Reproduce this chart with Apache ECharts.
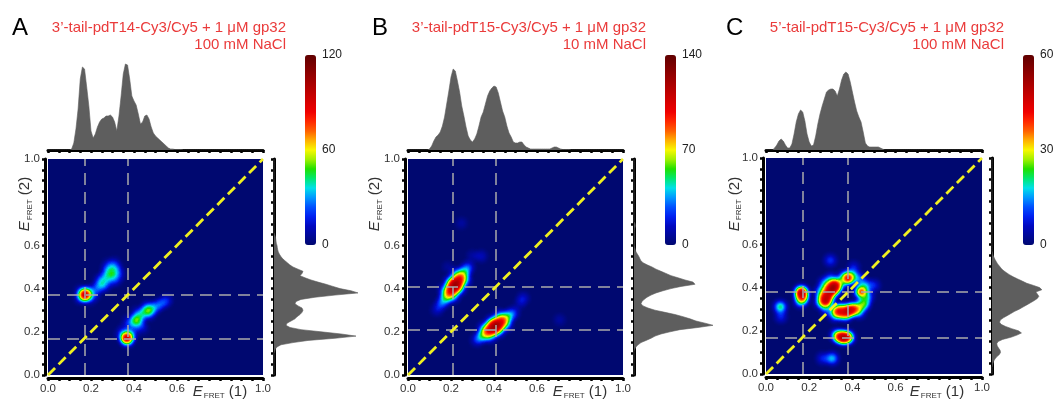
<!DOCTYPE html>
<html><head><meta charset="utf-8">
<script src="https://cdn.jsdelivr.net/npm/echarts@6.0.0/dist/echarts.min.js"></script>
<style>html,body{margin:0;padding:0;background:#fff;}#chart{width:1060px;height:404px;}</style>
</head><body><div id="chart"></div>
<script>
// ---------------- DATA ----------------
const tickLabels = ['0.0', '0.2', '0.4', '0.6', '1.0'];
const titleA = '3\u2019-tail-pdT14-Cy3/Cy5 + 1 \u03bcM gp32\n100 mM NaCl';
const titleB = '3\u2019-tail-pdT15-Cy3/Cy5 + 1 \u03bcM gp32\n10 mM NaCl';
const titleC = '5\u2019-tail-pdT15-Cy3/Cy5 + 1 \u03bcM gp32\n100 mM NaCl';
const cbMaxA = 120, cbMaxB = 140, cbMaxC = 60;

// dashed reference lines (E_FRET values)
const dashXA = [0.17, 0.37], dashYA = [0.17, 0.37];
const dashXB = [0.215, 0.41], dashYB = [0.215, 0.41];
const dashXC = [0.17, 0.375], dashYC = [0.17, 0.375];

// top histograms: counts per 0.01 bin, starting at bin index
const topAStart = 11;
const topA = [1,7,21,41,71,83,81,63,44,19,12,16,23,28,31,32,34,34,35,33,28,19,34,54,76,86,85,71,54,49,45,36,26,28,34,35,31,23,17,14,12,10,8,6,4,2,1,1,0.5,0.5,0.5,0.5];
const topBStart = 10;
const topB = [1,4,9,13,15,18,24,33,46,59,73,81,79,69,58,44,34,23,14,10,8,11,16,24,33,38,46,54,59,62,64,63,57,48,39,33,24,17,13,8,7,7,8,8,5,3,2,1,1,1,1,1,1,1,1,1,1,2,3,3,2,1,0.5,0.5,0.5,0.5];
const topCStart = 3;
const topC = [0,2,5,9,11,9,5,2,2,6,16,28,36,40,38,29,16,8,4,5,14,26,36,44,51,58,60,61,61,59,54,61,70,76,78,76,68,58,48,39,33,28,18,7,4,3,3,3,3,3,2,1];

// right histograms: counts per 0.01 bin (E_FRET(2)), starting at bin index
const rightAStart = 11;
const rightA = [0.7,1.3,3,7,19,34,61,82,67,47,27,16,12,13,17,21,23,26,28,29,28,24,21,22,27,41,61,84,77,66,59,52,44,37,31,26,28,29,24,19,15.7,13.3,10.7,8.3,6.7,5.3,4.3,3.7,3.3,3,2.3,2,1.7,1.3,0.7];
const rightBStart = 12;
const rightB = [0.7,2,4,7,12,17,21,27,36,46,64,79,71,62,56,49,41,31,21,14,9,7,8,10,13,17,22,29,37,47,61,59,51,44,37,32,27,22,18,13,9,6.7,5.7,4.7,3.3,2,1.3,0.7,0.3,0.3,0.3,0.3,0.3,0.3,0.3,0.3,0.7,1.3,1];
const rightCStart = 4;
const rightC = [0.7,1.3,2.3,4,6.3,9.7,11.3,10.7,8.7,7,6.3,8,14,25,33,39,35,26,18,12,10,11,15,20,25,30,36,41,46,51,56,60,62,60,58,66,63,55,46,40,34,28,23,18.7,14.7,12,9.7,7.3,5.7,4,2.7,1.3,0.7];

// 2D density points [E_FRET(1), E_FRET(2), counts]
const heatA = [
  [0.171,0.371,120],[0.174,0.374,40],[0.366,0.171,120],[0.369,0.174,40],
  [0.295,0.468,46],[0.411,0.255,60],[0.466,0.300,48],[0.262,0.413,22],
  [0.150,0.355,18],[0.150,0.390,14],[0.195,0.350,16],[0.195,0.390,18],[0.215,0.370,18],[0.225,0.400,21],[0.245,0.415,22],
  [0.255,0.440,22],[0.270,0.460,22],[0.275,0.490,21],[0.300,0.500,21],[0.320,0.490,21],[0.330,0.465,19],[0.315,0.440,19],
  [0.290,0.435,18],[0.240,0.440,14],[0.310,0.520,13],[0.280,0.515,11],
  [0.340,0.190,18],[0.370,0.150,14],[0.395,0.195,21],[0.390,0.230,21],[0.375,0.250,16],[0.425,0.235,21],[0.430,0.275,22],
  [0.445,0.290,21],[0.470,0.280,21],[0.490,0.305,22],[0.505,0.320,21],[0.525,0.330,19],[0.545,0.338,16],[0.555,0.350,11],
  [0.460,0.320,16],[0.415,0.290,16],[0.440,0.215,13],[0.355,0.215,13]
];
const heatB = [
  [0.218,0.415,130],[0.206,0.399,115],[0.230,0.431,115],[0.191,0.379,85],[0.245,0.451,85],
  [0.174,0.354,55],[0.262,0.476,55],[0.156,0.330,32],[0.280,0.500,30],[0.135,0.302,20],
  [0.238,0.400,60],[0.198,0.430,60],[0.265,0.436,45],[0.225,0.466,45],[0.211,0.364,45],[0.171,0.394,38],
  [0.405,0.225,130],[0.389,0.213,120],[0.421,0.237,115],[0.369,0.198,85],[0.441,0.252,85],
  [0.345,0.180,55],[0.465,0.270,55],[0.321,0.162,28],[0.489,0.288,30],
  [0.420,0.205,60],[0.390,0.245,60],[0.456,0.232,45],[0.426,0.272,45],[0.384,0.178,42],[0.354,0.218,42],
  [0.535,0.355,22],[0.340,0.550,18],[0.300,0.552,12],[0.248,0.703,12],[0.705,0.255,12],[0.185,0.500,10],[0.520,0.330,12]
];
const heatC = [
  [0.163,0.378,60],[0.166,0.372,30],[0.168,0.350,35],[0.160,0.335,20],
  [0.277,0.337,55],[0.287,0.357,38],[0.297,0.376,40],[0.307,0.396,60],[0.318,0.412,50],[0.265,0.365,22],[0.280,0.395,22],[0.330,0.395,18],
  [0.380,0.442,55],[0.440,0.380,52],
  [0.330,0.290,45],[0.355,0.283,35],[0.380,0.292,55],[0.400,0.300,45],[0.420,0.305,25],[0.345,0.305,20],
  [0.340,0.172,45],[0.360,0.168,60],[0.380,0.170,45],[0.325,0.180,20],
  [0.066,0.311,30],[0.069,0.265,12],[0.306,0.072,24],[0.262,0.072,12],
  [0.298,0.526,14],[0.406,0.495,10],[0.500,0.410,12],[0.455,0.330,18],[0.250,0.330,14],
  [0.340,0.420,20],[0.360,0.450,18],[0.400,0.460,18],[0.430,0.440,18],[0.460,0.410,20],[0.470,0.360,20],[0.450,0.320,22],
  [0.430,0.285,20],[0.370,0.270,20],[0.320,0.270,18],[0.280,0.300,18],[0.260,0.340,18],[0.250,0.380,16],[0.270,0.420,18],[0.300,0.440,18]
];

// ---------------- HELPERS ----------------
const bins = Array.from({length: 101}, (_, i) => (i / 100).toFixed(2));
function fill(start, vals) {
  const a = new Array(101).fill(0);
  vals.forEach((v, k) => { a[start + k] = v; });
  return a;
}
const FONT = "'Liberation Sans', Arial, Helvetica, sans-serif";
const NAVY = '#000870';
const JET = ['#000870','#000898','#0008c0','#0020f0','#0050ff','#0098ff','#00e0e8','#00e870','#20e000','#a0f000','#f8f800','#ffb000','#ff6000','#ff2800','#f00000','#d80000','#c00000','#a80000','#900000','#780000','#600000'];

echarts.registerMap('square', {
  type: 'FeatureCollection',
  features: [{type: 'Feature', properties: {name: 'sq'},
    geometry: {type: 'Polygon', coordinates: [[[0,0],[1,0],[1,1],[0,1],[0,0]]]}}]
});

const fmt = v => {
  const r = Math.round(v * 100);
  if (r % 10) return '';
  const s = (r / 100).toFixed(1);
  return tickLabels.includes(s) ? s : '';
};
const every5 = (i) => i % 5 === 0;

const panels = [
  {L: 48, T: 159, W: 215, H: 216, rightL: 274, cbL: 305, titleR: 286, letterX: 12, letter: 'A', yNameX: 25.5, xNameX: 220,
   heat: heatA, cbMax: cbMaxA, dashX: dashXA, dashY: dashYA, top: fill(topAStart, topA), right: fill(rightAStart, rightA), title: titleA},
  {L: 408, T: 159, W: 215, H: 216, rightL: 634, cbL: 665, titleR: 646, letterX: 372, letter: 'B', yNameX: 375.5, xNameX: 580,
   heat: heatB, cbMax: cbMaxB, dashX: dashXB, dashY: dashYB, top: fill(topBStart, topB), right: fill(rightBStart, rightB), title: titleB},
  {L: 766, T: 158, W: 216, H: 216, rightL: 992, cbL: 1023, titleR: 1004, letterX: 726, letter: 'C', yNameX: 735, xNameX: 937,
   heat: heatC, cbMax: cbMaxC, dashX: dashXC, dashY: dashYC, top: fill(topCStart, topC), right: fill(rightCStart, rightC), title: titleC}
];

const option = {
  animation: false,
  textStyle: {fontFamily: FONT},
  grid: [], xAxis: [], yAxis: [], geo: [], series: [], visualMap: [],
  graphic: {elements: []}
};

const mainAxis = (g) => ({
  gridIndex: g, type: 'value', min: 0, max: 1, interval: 0.05, offset: 3,
  axisLine: {onZero: false, lineStyle: {color: '#000', width: 3}},
  axisTick: {length: 3, lineStyle: {color: '#000', width: 2.5}},
  axisLabel: {formatter: fmt, fontSize: 11.5, color: '#333', margin: 5, fontFamily: FONT},
  splitLine: {show: false}
});
const histAxis = (g) => ({
  gridIndex: g, type: 'category', data: bins, boundaryGap: false,
  axisLine: {onZero: false, lineStyle: {color: '#000', width: 3}},
  axisTick: {interval: every5, length: 3, lineStyle: {color: '#000', width: 2.5}},
  axisLabel: {show: false}, splitLine: {show: false}
});
const rich = (n) => ({
  text: '{e|E}{s|FRET}{n| (' + n + ')}',
  align: 'center', verticalAlign: 'middle',
  rich: {
    e: {fontSize: 15, fontStyle: 'italic', fontFamily: FONT, fill: '#333', lineHeight: 16, verticalAlign: 'top'},
    s: {fontSize: 8, fontFamily: FONT, fill: '#333', lineHeight: 9, padding: [9, 0, 0, 1], verticalAlign: 'bottom'},
    n: {fontSize: 15, fontFamily: FONT, fill: '#333', lineHeight: 16, verticalAlign: 'top'}
  }
});

panels.forEach((p, i) => {
  const g = option.grid.length;
  option.grid.push({left: p.L, top: p.T, width: p.W, height: p.H});
  option.grid.push({left: p.L, top: 60, width: p.W, height: 90});
  option.grid.push({left: p.rightL, top: p.T, width: 90, height: p.H});
  option.grid.push({left: p.cbL, top: 55, width: 11, height: 190});

  option.xAxis.push(mainAxis(g));
  option.yAxis.push(mainAxis(g));
  option.xAxis.push(histAxis(g + 1));
  option.yAxis.push({gridIndex: g + 1, type: 'value', min: 0, max: 90, show: false});
  option.xAxis.push({gridIndex: g + 2, type: 'value', min: 0, max: 90, show: false});
  option.yAxis.push(histAxis(g + 2));
  option.xAxis.push({gridIndex: g + 3, type: 'value', show: false});
  option.yAxis.push({gridIndex: g + 3, type: 'value', min: 0, max: p.cbMax, interval: p.cbMax / 2, position: 'right',
    axisLine: {show: false}, axisTick: {show: false}, splitLine: {show: false},
    axisLabel: {fontSize: 12, color: '#222', margin: 6, fontFamily: FONT}});

  option.geo.push({map: 'square', roam: false, silent: true, aspectScale: 1,
    left: p.L, top: p.T, width: p.W, height: p.H,
    itemStyle: {areaColor: NAVY, borderWidth: 0, borderColor: NAVY},
    emphasis: {disabled: true}, select: {disabled: true}, label: {show: false}});

  const hs = option.series.length;
  option.series.push({type: 'heatmap', coordinateSystem: 'geo', geoIndex: i, data: p.heat,
    pointSize: 5, blurSize: 6, minOpacity: 1, maxOpacity: 1, silent: true});
  option.series.push({type: 'line', xAxisIndex: g, yAxisIndex: g, data: [[0, 0], [1, 1]], symbol: 'none', z: 5, silent: true,
    lineStyle: {color: '#f0f020', width: 2.8, type: [10, 5]},
    markLine: {silent: true, symbol: ['none', 'none'], label: {show: false}, emphasis: {disabled: true},
      lineStyle: {color: '#ababab', width: 1.5, type: [12, 7]},
      data: p.dashX.map(v => ({xAxis: v})).concat(p.dashY.map(v => ({yAxis: v})))}});
  option.series.push({type: 'line', xAxisIndex: g + 1, yAxisIndex: g + 1, data: p.top, symbol: 'none', silent: true,
    lineStyle: {color: '#5e5e5e', width: 0.6}, areaStyle: {color: '#5e5e5e', opacity: 1}});
  option.series.push({type: 'line', xAxisIndex: g + 2, yAxisIndex: g + 2, data: p.right, symbol: 'none', silent: true,
    lineStyle: {color: '#5e5e5e', width: 0.6}, areaStyle: {color: '#5e5e5e', opacity: 1}});

  option.visualMap.push({type: 'continuous', seriesIndex: hs, min: 0, max: p.cbMax, orient: 'vertical',
    left: p.cbL, top: 55, itemWidth: 11, itemHeight: 190, calculable: false, hoverLink: false, padding: 0,
    inRange: {color: JET}});

  const el = option.graphic.elements;
  el.push({type: 'text', x: p.letterX, y: 16, style: {text: p.letter, fontSize: 24, fill: '#000', fontFamily: FONT, verticalAlign: 'top'}});
  el.push({type: 'text', x: p.titleR, y: 19, style: {text: p.title, fontSize: 15, fill: '#ea3b3b', fontFamily: FONT,
    align: 'right', verticalAlign: 'top', lineHeight: 17}});
  el.push({type: 'text', x: p.xNameX, y: 392, style: rich(1)});
  el.push({type: 'text', x: p.yNameX, y: 204, rotation: Math.PI / 2, style: rich(2)});
});

const chart = echarts.init(document.getElementById('chart'), null, {renderer: 'canvas'});
chart.setOption(option);
</script>
</body></html>
